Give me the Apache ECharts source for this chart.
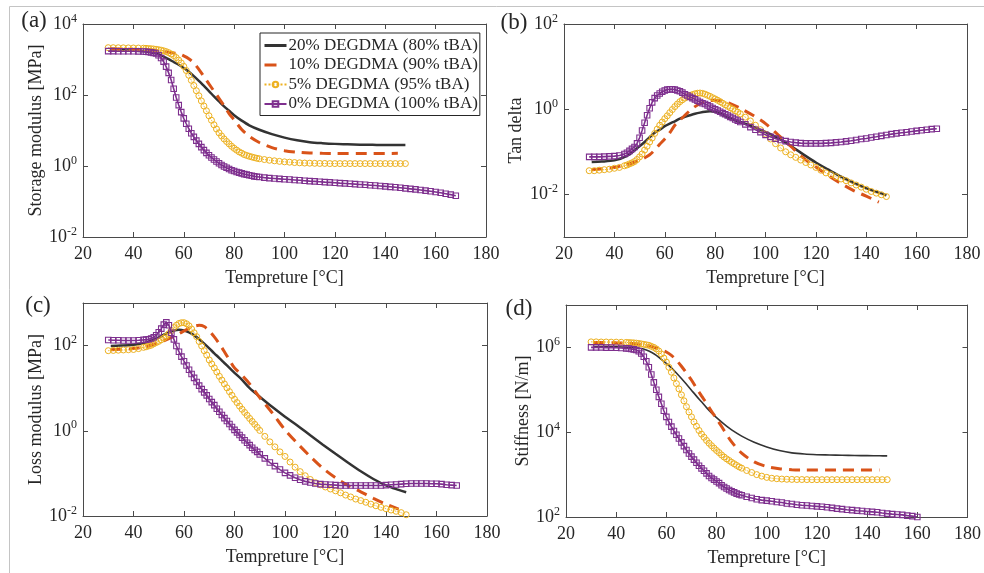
<!DOCTYPE html>
<html><head><meta charset="utf-8">
<script src="https://cdn.jsdelivr.net/npm/echarts@6/dist/echarts.min.js"></script>
<style>html,body{margin:0;padding:0;background:#fff}#c{width:984px;height:573px}</style>
</head><body><div id="c"></div><script>
// ---------- data ----------
const seriesNames = ['20% DEGDMA (80% tBA)', '10% DEGDMA (90% tBA)', '5% DEGDMA (95% tBA)', '0% DEGDMA (100% tBA)'];
const xTicks = [20, 40, 60, 80, 100, 120, 140, 160, 180];

// temperatures for the solid / dashed curves
const tempsLine = [31,35,40,45,50,52,54,56,58,60,62,64,66,68,70,72,74,76,78,80,83,86,90,95,100,105,110,115,120,125,130,135,140,145,148];
// temperatures for the marker curves
const tempsMarker = [30,32,34,36,38,40,42,44,45,46,47,48,49,50,51,52,53,54,55,56,57,58,59,60,61,62,63,64,65,66,67,68,69,70,71,72,73,74,75,76,77,78,79,80,81,82,83,84,85,86,87,88,89,90,92,94,96,98,100,102,104,106,108,110,112,114,116,118,120,122,124,126,128,130,132,134,136,138,140,142,144,146,148,150,152,154,156,158,160,162,164,166,168];

// (a) storage modulus [MPa]
const storage20 = [1860,1840,1800,1680,1420,1200,1020,850,710,575,450,340,250,180,129,91,66,48,36,27,19,14,10.5,7.9,6.3,5.3,4.7,4.4,4.2,4.1,4.0,3.95,3.9,3.9,3.9];
const storage10 = [2000,1970,1930,1880,1760,1680,1600,1530,1450,1260,1050,800,525,330,205,129,81,50,30,20,10.7,6.9,4.6,3.3,2.7,2.45,2.33,2.27,2.24,2.24,2.25,2.25,2.26,2.27];
const storage5 = [2150,2150,2140,2130,2120,2110,2100,2080,
 2060,2040,2010,1980,1940,1890,1830,1760,1670,1560,
 1430,1290,1130,960,800,640,490,360,260,185,
 132,95,68,49,36,26,19.5,14.5,11,8.6,
 7.0,5.8,4.9,4.2,3.6,3.15,2.8,2.5,2.3,2.1,
 1.98,1.88,1.8,1.72,1.65,1.6,
 1.52,1.45,1.4,1.35,1.31,1.28,1.25,1.23,1.21,1.2,
 1.19,1.18,1.18,1.17,1.17,1.17,1.17,1.17,1.17,1.17,1.17,1.17,1.17,1.17,1.17,1.17,1.17,1.17,1.17];
const storage0 = [1720,1720,1710,1710,1700,1700,1690,1680,
 1660,1630,1590,1540,1470,1320,1100,870,630,420,
 265,150,85,52,33,22,15.5,11.2,8.4,6.6,
 5.2,4.2,3.4,2.8,2.35,2.0,1.74,1.52,1.34,1.19,
 1.07,0.97,0.89,0.82,0.76,0.72,0.68,0.65,0.62,0.59,
 0.57,0.55,0.53,0.51,0.5,0.49,
 0.47,0.455,0.445,0.435,0.425,0.415,0.405,0.395,0.385,0.375,
 0.368,0.36,0.352,0.345,0.338,0.33,0.323,0.316,0.309,0.302,0.295,0.288,0.281,0.274,0.267,0.259,0.251,0.243,0.235,
 0.227,0.219,0.211,0.203,0.194,0.185,0.176,0.166,0.156,0.145];

// (b) tan delta
const tan20 = [0.058,0.059,0.063,0.08,0.135,0.17,0.22,0.28,0.33,0.4,0.46,0.52,0.6,0.66,0.72,0.78,0.83,0.87,0.89,0.87,0.74,0.6,0.5,0.39,0.29,0.21,0.138,0.087,0.056,0.038,0.026,0.0186,0.0138,0.011,0.0095];
const tan10 = [0.038,0.04,0.043,0.05,0.063,0.072,0.085,0.11,0.15,0.2,0.28,0.42,0.55,0.72,0.93,1.15,1.35,1.5,1.6,1.62,1.55,1.35,1.05,0.72,0.46,0.25,0.135,0.072,0.044,0.0275,0.018,0.0123,0.0091,0.0066];
const tan5 = [0.036,0.036,0.037,0.038,0.039,0.041,0.043,0.047,
 0.049,0.052,0.055,0.059,0.066,0.076,0.089,0.11,0.135,0.17,
 0.21,0.27,0.34,0.42,0.5,0.6,0.7,0.83,0.98,1.15,
 1.32,1.5,1.66,1.82,1.97,2.1,2.2,2.3,2.37,2.4,
 2.35,2.25,2.12,2.0,1.86,1.74,1.62,1.5,1.38,1.27,
 1.17,1.08,1.0,0.92,0.85,0.78,
 0.65,0.53,0.42,0.33,0.26,0.2,0.155,0.123,0.1,0.085,
 0.074,0.064,0.056,0.049,0.043,0.037,0.032,0.029,0.026,0.023,0.021,0.0186,0.0166,0.0148,0.0132,0.0117,0.0107,0.0098,0.0089];
const tan0 = [0.076,0.076,0.076,0.077,0.078,0.079,0.082,0.089,
 0.095,0.105,0.117,0.13,0.158,0.214,0.316,0.48,0.72,1.05,
 1.45,1.82,2.09,2.34,2.57,2.75,2.88,2.95,2.95,2.88,
 2.75,2.63,2.45,2.24,2.09,1.95,1.82,1.7,1.58,1.48,
 1.38,1.32,1.23,1.15,1.07,1.0,0.93,0.87,0.81,0.76,
 0.71,0.66,0.62,0.575,0.54,0.5,
 0.44,0.38,0.33,0.29,0.25,0.224,0.204,0.19,0.178,0.17,
 0.164,0.16,0.158,0.158,0.158,0.158,0.16,0.162,0.166,0.17,0.176,0.182,0.19,0.2,0.206,0.216,0.226,0.237,0.248,
 0.26,0.27,0.279,0.288,0.3,0.31,0.32,0.33,0.34,0.347];

// (c) loss modulus [MPa]
const loss20 = [98,100,105,118,155,180,205,225,234,226,204,174,141,111,86,66,51,39,30,23,15.7,10,6.3,3.6,2.14,1.32,0.785,0.473,0.288,0.178,0.112,0.074,0.0525,0.041,0.036];
const loss10 = [80,82,85,95,118,130,145,165,190,220,255,285,300,280,220,160,110,72,46,30,20,12.6,6.0,2.6,1.05,0.5,0.25,0.132,0.079,0.052,0.037,0.026,0.019,0.0145];
const loss5 = [76,77,78,79,80,81,85,91,
 94,98,102,110,118,126,137,150,166,190,
 225,265,300,330,345,345,325,290,245,200,
 162,125,98,76,60,46,37,30,24,19,
 15.5,12.6,10.2,8.3,6.8,5.5,4.6,3.8,3.2,2.7,
 2.3,1.95,1.66,1.42,1.2,1.02,
 0.74,0.55,0.42,0.32,0.25,0.185,0.14,0.11,0.088,0.072,
 0.061,0.054,0.048,0.043,0.039,0.035,0.031,0.028,0.025,0.023,0.021,0.019,0.0174,0.016,0.0148,0.0138,0.0129,0.012,0.0107];
const loss0 = [135,134,133,132,132,132,133,136,
 138,141,147,157,175,205,250,310,350,300,
 200,140,98,72,55,43,34,27,21.5,17.5,
 14,11.5,9.5,8,6.8,5.6,4.7,4.0,3.3,2.8,
 2.35,1.98,1.7,1.45,1.23,1.05,0.92,0.8,0.69,0.6,
 0.525,0.46,0.4,0.355,0.32,0.28,
 0.225,0.18,0.148,0.123,0.103,0.09,0.079,0.071,0.065,0.061,
 0.058,0.056,0.055,0.054,0.053,0.052,0.052,0.052,0.052,0.052,0.052,0.052,0.052,0.052,0.053,0.054,0.055,0.056,0.057,
 0.058,0.058,0.058,0.058,0.057,0.057,0.056,0.054,0.053,0.052];

// (d) stiffness [N/m]
const stiff20 = [1.05e6,1.05e6,1.04e6,1.0e6,9.4e5,8.7e5,7.7e5,6.5e5,5.2e5,4.2e5,3.3e5,2.5e5,1.85e5,1.35e5,9.8e4,7.1e4,5.2e4,3.8e4,2.85e4,2.2e4,1.55e4,1.13e4,8100,5800,4500,3700,3250,3050,2950,2900,2850,2820,2800,2780,2760];
const stiff10 = [1.3e6,1.3e6,1.28e6,1.25e6,1.18e6,1.12e6,1.05e6,9.7e5,8.8e5,7.8e5,6.5e5,5.0e5,3.6e5,2.5e5,1.7e5,1.1e5,7.2e4,4.8e4,3.1e4,2.1e4,1.1e4,5900,3200,2000,1550,1380,1300,1280,1280,1280,1280,1280,1280,1280];
const stiff5 = [1.35e6,1.35e6,1.34e6,1.34e6,1.33e6,1.33e6,1.32e6,1.31e6,
 1.3e6,1.29e6,1.28e6,1.26e6,1.24e6,1.21e6,1.18e6,1.15e6,1.12e6,1.06e6,
 1.0e6,9.2e5,8.2e5,7.0e5,5.6e5,4.5e5,3.4e5,2.6e5,1.9e5,1.4e5,
 1.05e5,7.6e4,5.5e4,4.0e4,3.0e4,2.3e4,1.75e4,1.38e4,1.1e4,9000,
 7600,6400,5500,4800,4200,3700,3300,2900,2600,2350,
 2150,1950,1800,1650,1520,1420,
 1250,1120,1000,920,860,820,800,785,775,770,
 765,765,762,760,760,760,760,760,760,760,760,760,760,760,760,760,760,760,760];
const stiff0 = [1.0e6,1.0e6,1.0e6,9.9e5,9.9e5,9.8e5,9.7e5,9.5e5,
 9.4e5,9.2e5,9.0e5,8.7e5,8.1e5,7.2e5,6.0e5,4.7e5,3.4e5,2.3e5,
 1.5e5,1.0e5,6.8e4,4.7e4,3.2e4,2.3e4,1.74e4,1.35e4,1.07e4,8700,
 7100,5750,4700,3800,3150,2650,2250,1900,1620,1400,
 1230,1070,930,830,760,690,630,560,510,470,
 435,405,380,355,340,325,
 300,280,263,250,243,235,226,219,209,202,
 195,190,186,182,178,174,170,164,158,153,148,145,141,138,135,132,129,124,120,
 117,115,112,108,105,100];

// ---------- styling ----------
const FONT = "'Liberation Serif','Times New Roman',serif";
const TXT = '#262626';
const AX = '#4a4a4a';
const colors = ['#333333', '#D95319', '#EDB120', '#7E2F8E'];

const panels = [
  { grid: {left: 83, top: 24, width: 403, height: 213}, ymin: 1e-2, ymax: 1e4, yTicks: [1e-2, 1, 1e2, 1e4],
    yTitle: 'Storage modulus [MPa]', yGap: 38, letter: '(a)', lx: 34, ly: 21, data: [storage20, storage10, storage5, storage0], bw: 2.5 },
  { grid: {left: 564, top: 24, width: 403, height: 213}, ymin: 1e-3, ymax: 1e2, yTicks: [1e-2, 1, 1e2],
    yTitle: 'Tan delta', yGap: 39, letter: '(b)', lx: 514, ly: 23, data: [tan20, tan10, tan5, tan0], bw: 2.5 },
  { grid: {left: 83, top: 303, width: 404, height: 213}, ymin: 1e-2, ymax: 1e3, yTicks: [1e-2, 1, 1e2],
    yTitle: 'Loss modulus [MPa]', yGap: 38, letter: '(c)', lx: 38, ly: 306, data: [loss20, loss10, loss5, loss0], bw: 2.5 },
  { grid: {left: 566, top: 305, width: 403, height: 212}, ymin: 1e2, ymax: 1e7, yTicks: [1e2, 1e4, 1e6],
    yTitle: 'Stiffness [N/m]', yGap: 34, letter: '(d)', lx: 519, ly: 309, data: [stiff20, stiff10, stiff5, stiff0], bw: 1.6 }
];

const grids = [], xAxes = [], yAxes = [], series = [], graphics = [];
const txt = {fontFamily: FONT, fontSize: 18, color: TXT};

graphics.push({type: 'line', shape: {x1: 9.5, y1: 6.5, x2: 984, y2: 6.5}, style: {stroke: '#c4c4c4', lineWidth: 1}, silent: true});
graphics.push({type: 'line', shape: {x1: 9.5, y1: 6.5, x2: 9.5, y2: 573}, style: {stroke: '#c4c4c4', lineWidth: 1}, silent: true});

panels.forEach((p, i) => {
  grids.push(Object.assign({containLabel: false}, p.grid));
  const axLine = {show: true, onZero: false, lineStyle: {color: AX, width: 1}};
  const xCommon = {type: 'value', gridIndex: i, min: 20, max: 180, interval: 20, splitLine: {show: false},
    axisLine: axLine, axisTick: {show: true, inside: true, length: 5, lineStyle: {color: AX}}};
  xAxes.push(Object.assign({}, xCommon, {position: 'bottom',
    axisLabel: Object.assign({margin: 8}, txt),
    name: 'Tempreture [°C]', nameLocation: 'middle', nameGap: 32, nameTextStyle: txt}));
  xAxes.push(Object.assign({}, xCommon, {position: 'top', axisLabel: {show: false}}));
  const yCommon = {type: 'log', logBase: 10, gridIndex: i, min: p.ymin, max: p.ymax, splitLine: {show: false},
    minorTick: {show: false}, axisLine: axLine,
    axisTick: {show: true, inside: true, length: 5, lineStyle: {color: AX}, customValues: p.yTicks}};
  yAxes.push(Object.assign({}, yCommon, {position: 'left',
    axisLabel: {margin: 6, customValues: p.yTicks,
      formatter: v => '{b|10}{s|' + Math.round(Math.log10(v)) + '}',
      rich: {b: {fontFamily: FONT, fontSize: 18, color: TXT}, s: {fontFamily: FONT, fontSize: 12, color: TXT, padding: [0, 0, 11, 0]}}},
    name: p.yTitle, nameLocation: 'middle', nameGap: p.yGap, nameTextStyle: txt}));
  yAxes.push(Object.assign({}, yCommon, {position: 'right', axisLabel: {show: false}}));

  p.data.forEach((vals, k) => {
    const temps = k < 2 ? tempsLine : tempsMarker;
    const s = {type: 'line', name: seriesNames[k], xAxisIndex: 2 * i, yAxisIndex: 2 * i,
      data: vals.map((v, j) => [temps[j], v]), animation: false, emphasis: {disabled: true}, z: 2 + k};
    if (k === 0) {
      Object.assign(s, {symbol: 'none', smooth: 0.3, lineStyle: {color: colors[0], width: p.bw}, itemStyle: {color: 'rgba(0,0,0,0)'}});
    } else if (k === 1) {
      Object.assign(s, {symbol: 'none', smooth: 0.3, lineStyle: {color: colors[1], width: 3, type: [11, 7]}, itemStyle: {color: 'rgba(0,0,0,0)'}});
    } else if (k === 2) {
      Object.assign(s, {symbol: 'circle', symbolSize: 6, showAllSymbol: true,
        lineStyle: {color: colors[2], width: 1, type: 'dotted'},
        itemStyle: {color: 'rgba(255,255,255,0)', borderColor: colors[2], borderWidth: 1}});
    } else {
      Object.assign(s, {symbol: 'rect', symbolSize: 5.5, showAllSymbol: true,
        lineStyle: {color: colors[3], width: 1.6},
        itemStyle: {color: 'rgba(255,255,255,0)', borderColor: colors[3], borderWidth: 1.1}});
    }
    series.push(s);
  });

  graphics.push({type: 'text', x: p.lx, y: p.ly, silent: true,
    style: {text: p.letter, font: '23px ' + FONT, fill: TXT, align: 'center', verticalAlign: 'middle'}});
});

const legendData = seriesNames.map((n, k) => k === 1
  ? {name: n, lineStyle: {type: [12, 30], width: 3, color: colors[1]}}
  : (k === 0 ? {name: n, lineStyle: {width: 3, color: colors[0]}} : {name: n}));

const chart = echarts.init(document.getElementById('c'), null, {renderer: 'canvas'});
chart.setOption({
  backgroundColor: '#ffffff',
  animation: false,
  grid: grids,
  xAxis: xAxes,
  yAxis: yAxes,
  series: series,
  graphic: graphics,
  legend: {
    data: legendData, left: 260, top: 33, orient: 'vertical',
    itemGap: 2.5, itemWidth: 22, itemHeight: 7, padding: [4, 2, 3, 3],
    borderColor: '#262626', borderWidth: 1, backgroundColor: '#ffffff',
    textStyle: {fontFamily: FONT, fontSize: 17, color: TXT, padding: [0, 0, 0, -3]}
  }
});
</script></body></html>
